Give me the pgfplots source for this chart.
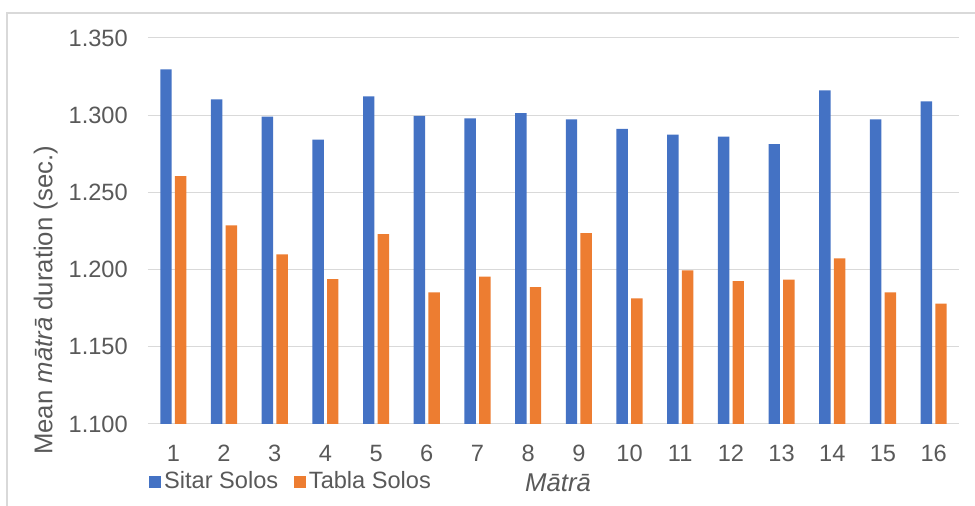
\documentclass[border=0pt]{standalone}
\usepackage{pgfplots}
\pgfplotsset{compat=1.18}
\usepackage{fontspec}
\setmainfont{Liberation Sans}
\definecolor{sitar}{HTML}{4472C4}
\definecolor{tabla}{HTML}{ED7D31}
\definecolor{txt}{HTML}{595959}
\definecolor{grd}{HTML}{D9D9D9}
\begin{document}
\fontsize{17.7}{21}\selectfont
\begin{tikzpicture}
\useasboundingbox (0pt,0pt) rectangle (731.25pt,379.5pt);
\draw[grd, line width=1.1pt] (5.25pt,0pt) -- (5.25pt,369.75pt) -- (731.25pt,369.75pt);
\begin{axis}[
  at={(111pt,61.5pt)}, anchor=south west,
  scale only axis, width=608.25pt, height=289.5pt,
  ybar=2.4pt, bar width=8.6pt,
  xmin=0.5, xmax=16.5, ymin=1.1, ymax=1.35,
  xtick={1,...,16},
  ytick={1.1,1.15,1.2,1.25,1.3,1.35},
  /pgf/number format/assume math mode=true,
  yticklabel style={/pgf/number format/.cd, fixed, fixed zerofill, precision=3, /tikz/.cd, anchor=east, inner sep=0pt, xshift=-15pt, text=txt},
  xticklabel style={anchor=north, inner sep=0pt, yshift=-11.25pt, text=txt},
  scaled y ticks=false,
  tick style={draw=none},
  axis x line*=bottom, axis y line*=left,
  axis line style={draw=none},
  ymajorgrids, grid style={grd, line width=0.75pt},
  ylabel={Mean \textit{mātrā} duration (sec.)},
  ylabel style={at={(axis description cs:-0.118,0.32)}, anchor=base, text=txt, font=\fontsize{19.3}{23}\selectfont},
  xlabel={\textit{Mātrā}},
  xlabel style={at={(axis description cs:0.5056,-0.1754)}, anchor=base, text=txt, font=\fontsize{19.3}{23}\selectfont},
  legend columns=2,
  legend style={at={(axis description cs:0.001,-0.150)}, anchor=west, draw=none, fill=none, inner sep=0pt, outer sep=0pt, nodes={inner sep=2pt, text=txt}, /tikz/every even column/.append style={column sep=9.5pt}},
  legend image code/.code={\fill[#1] (0pt,-4.75pt) rectangle (9.5pt,4.75pt);},
]
\addplot[fill=sitar, draw=none] coordinates {
(1,1.3297) (2,1.3103) (3,1.2990) (4,1.2841) (5,1.3122) (6,1.2995) (7,1.2980) (8,1.3014)
(9,1.2973) (10,1.2911) (11,1.2874) (12,1.2861) (13,1.2812) (14,1.3161) (15,1.2973) (16,1.3090)};
\addplot[fill=tabla, draw=none] coordinates {
(1,1.2606) (2,1.2287) (3,1.2099) (4,1.1939) (5,1.2229) (6,1.1853) (7,1.1954) (8,1.1887)
(9,1.2237) (10,1.1814) (11,1.1995) (12,1.1926) (13,1.1935) (14,1.2073) (15,1.1853) (16,1.1779)};
\legend{Sitar Solos, Tabla Solos}
\end{axis}
\end{tikzpicture}
\end{document}
